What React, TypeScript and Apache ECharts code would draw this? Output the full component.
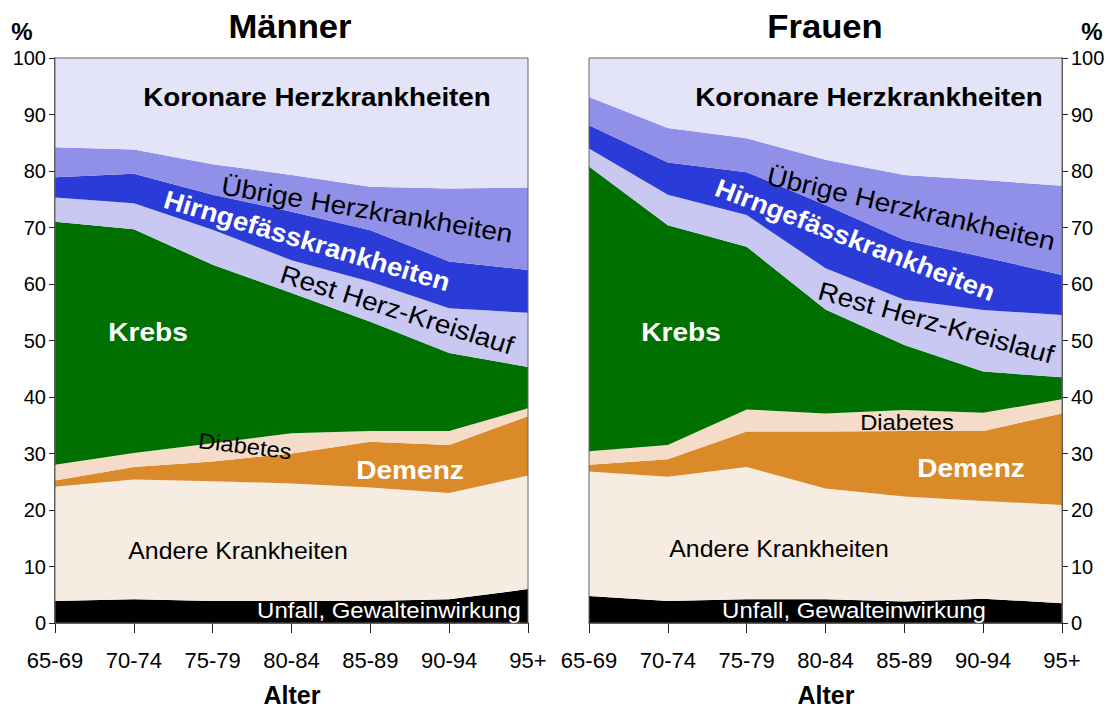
import React, { useEffect, useRef } from "react";
import * as echarts from "echarts";

const ageGroups = ["65-69", "70-74", "75-79", "80-84", "85-89", "90-94", "95+"];
const yTicks = [0, 10, 20, 30, 40, 50, 60, 70, 80, 90, 100];

const causes = [
  "Unfall, Gewalteinwirkung",
  "Andere Krankheiten",
  "Demenz",
  "Diabetes",
  "Krebs",
  "Rest Herz-Kreislauf",
  "Hirngefässkrankheiten",
  "Übrige Herzkrankheiten",
  "Koronare Herzkrankheiten",
];

// Männer (% of deaths per age group)
const menUnfall = [3.9, 4.2, 3.9, 3.9, 3.9, 4.2, 6.0];
const menAndere = [20.2, 21.2, 21.2, 20.8, 20.1, 18.8, 20.1];
const menDemenz = [1.1, 2.2, 3.5, 5.3, 8.1, 8.5, 10.5];
const menDiabetes = [2.8, 2.5, 3.2, 3.6, 1.9, 2.5, 1.4];
const menKrebs = [43.0, 39.6, 31.6, 24.8, 19.3, 13.8, 7.3];
const menRest = [4.3, 4.6, 6.2, 5.8, 7.1, 7.9, 9.6];
const menHirn = [3.6, 5.2, 6.2, 8.6, 9.1, 8.3, 7.6];
const menUebrige = [5.3, 4.3, 5.4, 6.5, 7.7, 12.9, 14.6];
const menKoronare = [15.8, 16.2, 18.8, 20.7, 22.8, 23.1, 22.9];

// Frauen
const womenUnfall = [4.8, 3.9, 4.2, 4.2, 3.8, 4.3, 3.5];
const womenAndere = [22.0, 22.0, 23.4, 19.6, 18.6, 17.3, 17.4];
const womenDemenz = [1.2, 3.1, 6.3, 10.1, 11.6, 12.4, 16.2];
const womenDiabetes = [2.4, 2.5, 3.9, 3.2, 3.7, 3.2, 2.5];
const womenKrebs = [50.4, 38.9, 28.8, 18.4, 11.5, 7.3, 3.9];
const womenRest = [3.2, 5.4, 5.6, 7.3, 8.0, 10.9, 11.0];
const womenHirn = [4.1, 5.7, 7.6, 11.2, 10.6, 9.4, 7.1];
const womenUebrige = [5.0, 6.1, 6.0, 8.0, 11.5, 13.6, 15.8];
const womenKoronare = [6.9, 12.4, 14.2, 18.0, 20.7, 21.6, 22.6];

const colors = [
  "#000000",
  "#f7ece2",
  "#db8a2a",
  "#f5dcc8",
  "#007000",
  "#c8c8f2",
  "#2b3bd8",
  "#9090e8",
  "#e4e4f8",
];

const menData = [menUnfall, menAndere, menDemenz, menDiabetes, menKrebs, menRest, menHirn, menUebrige, menKoronare];
const womenData = [womenUnfall, womenAndere, womenDemenz, womenDiabetes, womenKrebs, womenRest, womenHirn, womenUebrige, womenKoronare];

const FONT = "Arial, 'Liberation Sans', sans-serif";

function label(text: string, x: number, y: number, size: number, opts: any = {}) {
  return {
    type: "text",
    x,
    y,
    rotation: ((opts.angle || 0) * Math.PI) / 180,
    scaleX: opts.sx || 1,
    z: 100,
    style: {
      text,
      fill: opts.color || "#000",
      fontSize: size,
      fontWeight: opts.bold ? "bold" : "normal",
      fontFamily: FONT,
      textAlign: "center",
      textVerticalAlign: "middle",
    },
  };
}

export default function App() {
  const ref = useRef<HTMLDivElement>(null);
  useEffect(() => {
    if (!ref.current) return;
    const chart = echarts.init(ref.current, undefined, { renderer: "svg" });

    const mkX = (gridIndex: number) => ({
      type: "category",
      gridIndex,
      data: ageGroups,
      boundaryGap: false,
      axisLine: { show: true, lineStyle: { color: "#222", width: 1.5 } },
      axisTick: { show: true, length: 10, lineStyle: { color: "#222" } },
      axisLabel: { color: "#000", fontSize: 22, fontFamily: FONT, margin: 26 },
      splitLine: { show: false },
    });
    const mkY = (gridIndex: number, position: string) => ({
      type: "value",
      gridIndex,
      position,
      min: 0,
      max: 100,
      interval: 10,
      axisLine: { show: true, lineStyle: { color: "#222", width: 1.5 } },
      axisTick: { show: true, length: 6, lineStyle: { color: "#222" } },
      axisLabel: {
        color: "#000",
        fontSize: 20,
        fontFamily: FONT,
        margin: 9,
        formatter: (v: number) => (yTicks.includes(v) ? String(v) : ""),
      },
      splitLine: { show: false },
    });

    const series: any[] = [];
    [menData, womenData].forEach((group, gi) => {
      group.forEach((vals, i) => {
        series.push({
          name: causes[i] + (gi === 0 ? " (M)" : " (F)"),
          type: "line",
          xAxisIndex: gi,
          yAxisIndex: gi,
          stack: gi === 0 ? "men" : "women",
          data: vals,
          symbol: "none",
          smooth: false,
          lineStyle: { width: 0 },
          areaStyle: { color: colors[i], opacity: 1 },
          itemStyle: { color: colors[i] },
          silent: true,
        });
      });
    });

    const graphic: any[] = [
      label("Männer", 290, 26, 33, { bold: true, sx: 1.05 }),
      label("Frauen", 825, 26, 33, { bold: true, sx: 1.05 }),
      label("%", 22, 31, 24, { bold: true }),
      label("%", 1092, 31, 24, { bold: true }),
      label("Alter", 292, 695, 25, { bold: true, sx: 1.0 }),
      label("Alter", 826, 695, 25, { bold: true, sx: 1.0 }),
      // Männer labels
      label("Koronare Herzkrankheiten", 317, 97, 26, { bold: true, sx: 1.07 }),
      label("Übrige Herzkrankheiten", 367, 210, 26, { angle: -9.5, sx: 1.08 }),
      label("Hirngefässkrankheiten", 307, 241, 26, { bold: true, color: "#fff", angle: -16.5, sx: 1.06 }),
      label("Rest Herz-Kreislauf", 397, 310, 26, { angle: -17.5, sx: 1.08 }),
      label("Krebs", 148, 332, 26, { bold: true, color: "#fff", sx: 1.08 }),
      label("Diabetes", 245, 446, 22, { angle: -7, sx: 1.08 }),
      label("Demenz", 410, 470, 26, { bold: true, color: "#fff", sx: 1.08 }),
      label("Andere Krankheiten", 238, 551, 23, { sx: 1.08 }),
      label("Unfall, Gewalteinwirkung", 389, 610, 22, { color: "#fff", sx: 1.09 }),
      // Frauen labels
      label("Koronare Herzkrankheiten", 869, 97, 26, { bold: true, sx: 1.07 }),
      label("Übrige Herzkrankheiten", 911, 209, 26, { angle: -13, sx: 1.08 }),
      label("Hirngefässkrankheiten", 855, 240, 26, { bold: true, color: "#fff", angle: -21, sx: 1.06 }),
      label("Rest Herz-Kreislauf", 936, 323, 26, { angle: -15.5, sx: 1.08 }),
      label("Krebs", 681, 332, 26, { bold: true, color: "#fff", sx: 1.08 }),
      label("Diabetes", 907, 422, 22, { sx: 1.08 }),
      label("Demenz", 971, 468, 26, { bold: true, color: "#fff", sx: 1.08 }),
      label("Andere Krankheiten", 779, 549, 23, { sx: 1.08 }),
      label("Unfall, Gewalteinwirkung", 854, 610, 22, { color: "#fff", sx: 1.09 }),
    ];

    chart.setOption({
      animation: false,
      backgroundColor: "#fff",
      grid: [
        { left: 55, right: 581, top: 58, bottom: 85, show: true, borderColor: "#666", borderWidth: 1, backgroundColor: "transparent", z: 10 },
        { left: 589, right: 47, top: 58, bottom: 85, show: true, borderColor: "#666", borderWidth: 1, backgroundColor: "transparent", z: 10 },
      ],
      xAxis: [mkX(0), mkX(1)],
      yAxis: [mkY(0, "left"), mkY(1, "right")],
      series,
      graphic,
    });
    return () => chart.dispose();
  }, []);
  return <div ref={ref} style={{ width: 1109, height: 708, position: "absolute", left: 0, top: 0 }} />;
}
